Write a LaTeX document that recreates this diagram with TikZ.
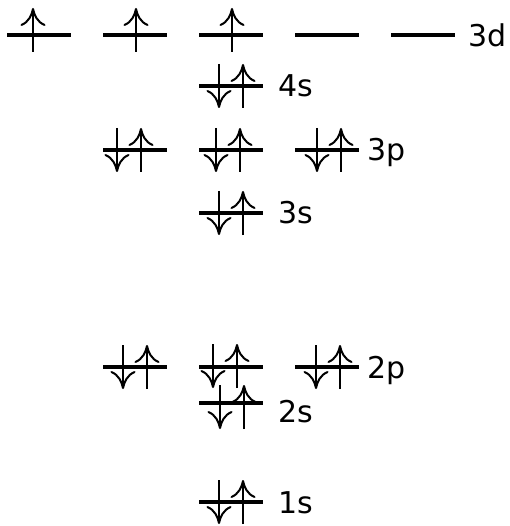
\documentclass[tikz,border=0pt]{standalone}
\usepackage{fontspec}
\setmainfont{DejaVu Sans}
\usetikzlibrary{arrows.meta,calc}

% one pair of opposite spins on a level: #1 level, #2 x offset, #3 y shift
\newcommand\pair[3]{%
	\draw[spin] ($(#1)+(#2,#3-22)$) -- ++(0,44);
	\draw[spin] ($(#1)+(#2+24,#3+22)$) -- ++(0,-44);}

\begin{document}
\begin{tikzpicture}[
			x=1pt, y=-1pt,
			level/.style={line width=4pt},
			spin/.style={line width=2pt, -{Computer Modern Rightarrow[length=18pt,width=25pt]}},
			label node/.style={font=\fontsize{30}{36}\selectfont, anchor=base west, inner sep=0pt}
			]
			\useasboundingbox (0,0) rectangle (509,526);
			\def\W{64}
			% left ends of the levels
			\coordinate (d1) at (7,35);
			\coordinate (d2) at (103,35);
			\coordinate (d3) at (199,35);
			\coordinate (d4) at (295,35);
			\coordinate (d5) at (391,35);
			\coordinate (s4) at (199,86);
			\coordinate (p31) at (103,150);
			\coordinate (p32) at (199,150);
			\coordinate (p33) at (295,150);
			\coordinate (s3) at (199,213);
			\coordinate (p21) at (103,367);
			\coordinate (p22) at (199,367);
			\coordinate (p23) at (295,367);
			\coordinate (s2) at (199,403);
			\coordinate (s1) at (199,502);
			
			\foreach \c in {d1,d2,d3,d4,d5,s4,p31,p32,p33,s3,p21,p22,p23,s2,s1}
				\draw[level] (\c) -- ++(\W,0);
			
			% 3d, one spin each
			\draw[spin] ($(d1)+(26,17)$) -- ++(0,-44);
			\draw[spin] ($(d2)+(33,17)$) -- ++(0,-44);
			\draw[spin] ($(d3)+(33,17)$) -- ++(0,-44);
			
			\pair{s4}{20}{0}
			\pair{p31}{14}{0}
			\pair{p32}{17}{0}
			\pair{p33}{22}{0}
			\pair{s3}{20}{0}
			\pair{p21}{20}{0}
			\pair{p22}{14}{-1}
			\pair{p23}{21}{0}
			\pair{s2}{21}{4}
			\pair{s1}{20}{0}
			
			\node[label node] (l3d) at (468,47) {3d};
			\node[label node] (l4s) at (278,97) {4s};
			\node[label node] (l3p) at (367,161) {3p};
			\node[label node] (l3s) at (278,224) {3s};
			\node[label node] (l2p) at (367,378) {2p};
			\node[label node] (l2s) at (278,422) {2s};
			\node[label node] (l1s) at (278,513) {1s};
		\end{tikzpicture}
\end{document}
